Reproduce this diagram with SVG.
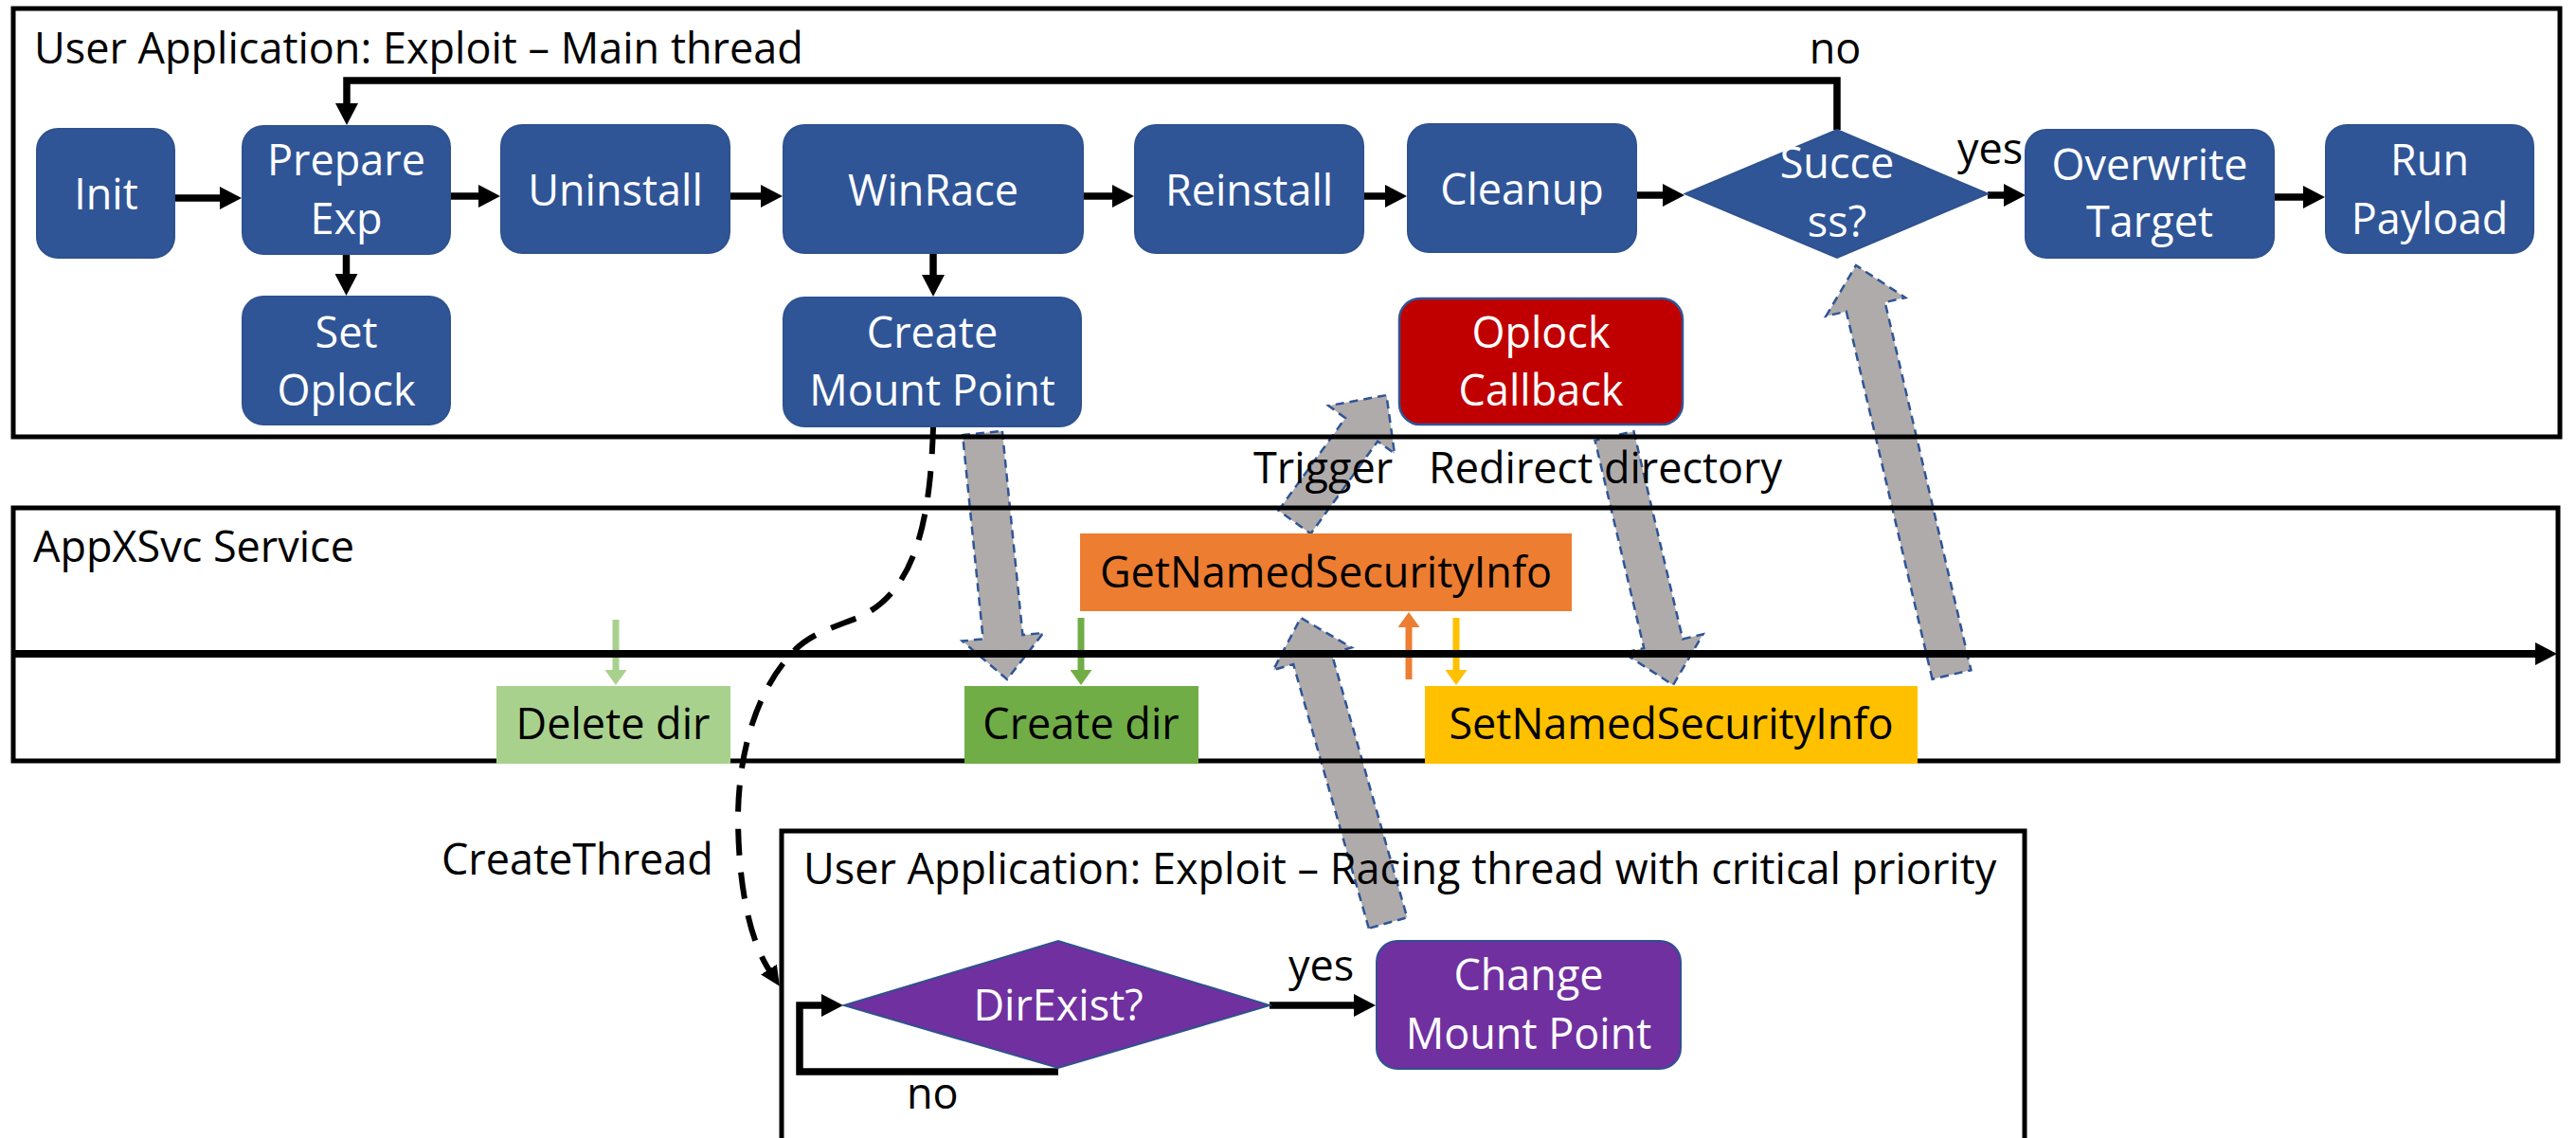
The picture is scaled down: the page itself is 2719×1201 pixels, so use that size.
<svg xmlns="http://www.w3.org/2000/svg" width="2719" height="1201" viewBox="0 0 2719 1201">
<style>
.t{font-family:"Open Sans","Liberation Sans",sans-serif;font-size:45px}
.w{fill:#fff;text-anchor:middle}
.kc{fill:#000;text-anchor:middle}
.k{fill:#000}
.node{fill:#2F5597;stroke:#2F528F;stroke-width:2}
.frame{fill:none;stroke:#000;stroke-width:5}
.flow{fill:none;stroke:#000;stroke-width:7.5}
.block{fill:#AFABAB;stroke:#2F5597;stroke-width:2.5;stroke-dasharray:9 6}
</style>
<defs>
<marker id="ah" markerUnits="userSpaceOnUse" markerWidth="24" markerHeight="24" refX="1" refY="12" orient="auto"><path d="M0,0 L23,12 L0,24 z" fill="#000"/></marker>
<marker id="ahd" markerUnits="userSpaceOnUse" markerWidth="22" markerHeight="20" refX="1" refY="10" orient="auto"><path d="M0,0 L21,10 L0,20 z" fill="#000"/></marker>
<marker id="ahLG" markerUnits="userSpaceOnUse" markerWidth="17" markerHeight="23" refX="1" refY="11.5" orient="auto"><path d="M0,0 L16,11.5 L0,23 z" fill="#A9D18E"/></marker>
<marker id="ahG" markerUnits="userSpaceOnUse" markerWidth="17" markerHeight="23" refX="1" refY="11.5" orient="auto"><path d="M0,0 L16,11.5 L0,23 z" fill="#70AD47"/></marker>
<marker id="ahO" markerUnits="userSpaceOnUse" markerWidth="17" markerHeight="23" refX="1" refY="11.5" orient="auto"><path d="M0,0 L16,11.5 L0,23 z" fill="#ED7D31"/></marker>
<marker id="ahY" markerUnits="userSpaceOnUse" markerWidth="17" markerHeight="23" refX="1" refY="11.5" orient="auto"><path d="M0,0 L16,11.5 L0,23 z" fill="#FFC000"/></marker>
</defs>
<rect width="2719" height="1201" fill="#fff"/>

<g id="connectors">
  <!-- block arrows -->
  <polygon class="block" points="0,-21 216.3,-21 216.3,-43 261.3,0 216.3,43 216.3,21 0,21" transform="translate(1037,457) rotate(84.29)"/>
  <polygon class="block" points="0,-21 120.4,-21 120.4,-43 165.4,0 120.4,43 120.4,21 0,21" transform="translate(1366.5,551) rotate(-54.1)"/>
  <polygon class="block" points="0,-21 225.2,-21 225.2,-43 270.2,0 225.2,43 225.2,21 0,21" transform="translate(1704,460) rotate(76.74)"/>
  <polygon class="block" points="0,-21 289.9,-21 289.9,-43 334.9,0 289.9,43 289.9,21 0,21" transform="translate(1465,974) rotate(-105.95)"/>
  <polygon class="block" points="0,-21 398.6,-21 398.6,-43 443.6,0 398.6,43 398.6,21 0,21" transform="translate(2060,712) rotate(-103.16)"/>
  <!-- main thread flow -->
  <path class="flow" d="M184 209 L233 209" marker-end="url(#ah)"/>
  <path class="flow" d="M475 207 L506 207" marker-end="url(#ah)"/>
  <path class="flow" d="M770 207 L804 207" marker-end="url(#ah)"/>
  <path class="flow" d="M1143 207 L1175 207" marker-end="url(#ah)"/>
  <path class="flow" d="M1439 207 L1463 207" marker-end="url(#ah)"/>
  <path class="flow" d="M1727 206 L1756 206" marker-end="url(#ah)"/>
  <path class="flow" d="M2098 206 L2116 206" marker-end="url(#ah)"/>
  <path class="flow" d="M2400 208 L2432 208" marker-end="url(#ah)"/>
  <path class="flow" d="M365.5 268 L365.5 290" marker-end="url(#ah)"/>
  <path class="flow" d="M985 267 L985 291" marker-end="url(#ah)"/>
  <path class="flow" d="M1939 137 L1939 85 L366 85 L366 110" marker-end="url(#ah)"/>
  <!-- createthread -->
  <path d="M985 451 C982 545 968 625 905 652 C880 662 858 668 840 685 C800 725 780 790 779 860 C779 930 790 990 812 1024" fill="none" stroke="#000" stroke-width="6" stroke-dasharray="28 18" marker-end="url(#ahd)"/>
  <!-- service small arrows -->
  <path d="M650 654 L650 708" stroke="#A9D18E" stroke-width="7" marker-end="url(#ahLG)"/>
  <path d="M1141 652 L1141 708" stroke="#70AD47" stroke-width="7" marker-end="url(#ahG)"/>
  <path d="M1487 717 L1487 661" stroke="#ED7D31" stroke-width="7" marker-end="url(#ahO)"/>
  <path d="M1537 652 L1537 708" stroke="#FFC000" stroke-width="7" marker-end="url(#ahY)"/>
  <!-- racing thread flow -->
  <path class="flow" d="M1340 1061 L1430 1061" marker-end="url(#ah)"/>
  <path class="flow" d="M1117 1131 L844 1131 L844 1061 L868 1061" marker-end="url(#ah)"/>
  <!-- labels -->
  <text class="t k" x="1937" y="67" text-anchor="middle">no</text>
  <text class="t k" x="2066" y="173">yes</text>
  <text class="t k" x="1323" y="510">Trigger</text>
  <text class="t k" x="1508" y="510">Redirect directory</text>
  <text class="t k" x="466" y="923">CreateThread</text>
  <text class="t k" x="1360" y="1035">yes</text>
  <text class="t k" x="957" y="1170">no</text>
</g>

<g id="main-thread">
  <rect class="frame" x="14" y="9" width="2688" height="452"/>
  <text class="t k" x="36" y="67">User Application: Exploit – Main thread</text>
</g>
<g id="appxsvc-service">
  <rect class="frame" x="14" y="536" width="2686" height="267"/>
  <text class="t k" x="35" y="593">AppXSvc Service</text>
  <path d="M14 690 L2677 690" stroke="#000" stroke-width="8" marker-end="url(#ah)"/>
</g>
<g id="racing-thread">
  <rect class="frame" x="825" y="877" width="1312" height="400"/>
  <text class="t k" x="848" y="933">User Application: Exploit – Racing thread with critical priority</text>
</g>

<g id="init"><rect class="node" x="39" y="136" width="145" height="136" rx="22"/><text class="t w" x="112" y="221">Init</text></g>
<g id="prepare-exp"><rect class="node" x="256" y="133" width="219" height="135" rx="22"/><text class="t w" x="365.5" y="185">Prepare</text><text class="t w" x="365.5" y="247">Exp</text></g>
<g id="uninstall"><rect class="node" x="529" y="132" width="241" height="135" rx="22"/><text class="t w" x="649.5" y="217">Uninstall</text></g>
<g id="winrace"><rect class="node" x="827" y="132" width="316" height="135" rx="22"/><text class="t w" x="985" y="217">WinRace</text></g>
<g id="reinstall"><rect class="node" x="1198" y="132" width="241" height="135" rx="22"/><text class="t w" x="1318.5" y="217">Reinstall</text></g>
<g id="cleanup"><rect class="node" x="1486" y="131" width="241" height="135" rx="22"/><text class="t w" x="1606.5" y="216">Cleanup</text></g>
<g id="success"><polygon class="node" points="1779,204.5 1939,137 2098,204.5 1939,272"/><text class="t w" x="1939" y="188">Succe</text><text class="t w" x="1939" y="250">ss?</text></g>
<g id="overwrite-target"><rect class="node" x="2138" y="137" width="262" height="135" rx="22"/><text class="t w" x="2269" y="190">Overwrite</text><text class="t w" x="2269" y="250">Target</text></g>
<g id="run-payload"><rect class="node" x="2455" y="132" width="219" height="135" rx="22"/><text class="t w" x="2564.5" y="185">Run</text><text class="t w" x="2564.5" y="247">Payload</text></g>
<g id="set-oplock"><rect class="node" x="256" y="313" width="219" height="135" rx="22"/><text class="t w" x="365.5" y="367">Set</text><text class="t w" x="365.5" y="428">Oplock</text></g>
<g id="create-mount-point"><rect class="node" x="827" y="314" width="314" height="136" rx="22"/><text class="t w" x="984" y="367">Create</text><text class="t w" x="984" y="428">Mount Point</text></g>
<g id="oplock-callback"><rect x="1477" y="315" width="299" height="133" rx="22" fill="#C00000" stroke="#2F5597" stroke-width="2.5"/><text class="t w" x="1626.5" y="367">Oplock</text><text class="t w" x="1626.5" y="428">Callback</text></g>

<g id="delete-dir"><rect x="524" y="724" width="247" height="82" fill="#A9D18E"/><text class="t kc" x="647" y="780">Delete dir</text></g>
<g id="create-dir"><rect x="1018" y="724" width="247" height="82" fill="#70AD47"/><text class="t kc" x="1141" y="780">Create dir</text></g>
<g id="get-named-security-info"><rect x="1140" y="563" width="519" height="82" fill="#ED7D31"/><text class="t kc" x="1399.5" y="620">GetNamedSecurityInfo</text></g>
<g id="set-named-security-info"><rect x="1504" y="724" width="520" height="82" fill="#FFC000"/><text class="t kc" x="1764" y="780">SetNamedSecurityInfo</text></g>

<g id="dir-exist"><polygon points="891,1061 1117,993 1340,1061 1117,1127" fill="#7030A0" stroke="#2F528F" stroke-width="2"/><text class="t w" x="1117" y="1077">DirExist?</text></g>
<g id="change-mount-point"><rect x="1453" y="993" width="321" height="135" rx="22" fill="#7030A0" stroke="#2F528F" stroke-width="2"/><text class="t w" x="1613.5" y="1045">Change</text><text class="t w" x="1613.5" y="1107">Mount Point</text></g>
</svg>
